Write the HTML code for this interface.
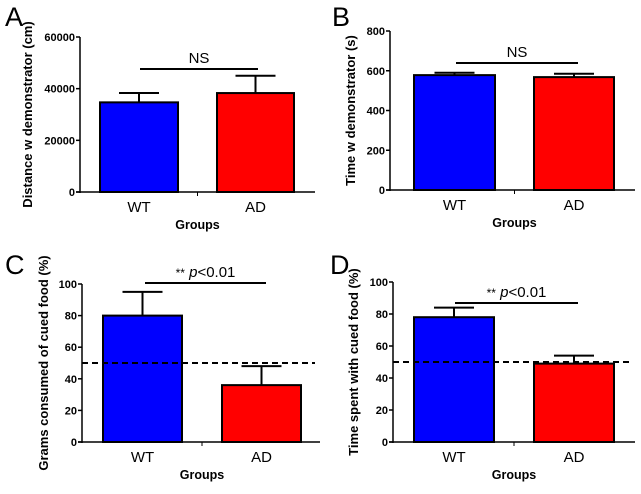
<!DOCTYPE html>
<html><head><meta charset="utf-8"><style>
body{margin:0;background:#fff;width:641px;height:489px;overflow:hidden}
svg{font-family:"Liberation Sans",Arial,sans-serif}
</style></head><body>
<svg id="fig" width="641" height="489"></svg>
<script>
const categories=["WT","AD"];
const valuesA=[34700,38300], errA=[3600,6700];
const valuesB=[578,568], errB=[12,17];
const valuesC=[80,36], errC=[15,12];
const valuesD=[78,49], errD=[6,5];
const ticksA=[0,20000,40000,60000], ticksB=[0,200,400,600,800];
const ticksC=[0,20,40,60,80,100], ticksD=[0,20,40,60,80,100];
const colors=["#0000ff","#ff0000"];
const NS="http://www.w3.org/2000/svg";
const svg=document.getElementById('fig');
function el(t,a,p){const e=document.createElementNS(NS,t);for(const k in a)e.setAttribute(k,a[k]);(p||svg).appendChild(e);return e;}
const panels=[
 {id:"a",letter:"A",lx:5,ly:26,ax:80,y0:192,yTop:37,xEnd:315,vals:valuesA,errs:errA,ticks:ticksA,max:60000,bars:[[100,178],[217,294]],ylab:"Distance w demonstrator (cm)",ylx:32,sig:"NS",sigY:69,sigX:[140,258],dash:null},
 {id:"b",letter:"B",lx:332,ly:26,ax:390,y0:190,yTop:31,xEnd:635,vals:valuesB,errs:errB,ticks:ticksB,max:800,bars:[[414,495],[534,614]],ylab:"Time w demonstrator (s)",ylx:355,sig:"NS",sigY:63,sigX:[456,578],dash:null},
 {id:"c",letter:"C",lx:5,ly:274,ax:82,y0:442,yTop:284,xEnd:320,vals:valuesC,errs:errC,ticks:ticksC,max:100,bars:[[103,182],[222,301]],ylab:"Grams consumed of cued food (%)",ylx:48,sig:"p",sigY:283,sigX:[145,266],dash:50},
 {id:"d",letter:"D",lx:330,ly:274,ax:393,y0:442,yTop:282,xEnd:635,vals:valuesD,errs:errD,ticks:ticksD,max:100,bars:[[414,494],[534,614]],ylab:"Time spent with cued food (%)",ylx:358,sig:"p",sigY:303,sigX:[455,578],dash:50}
];
panels.forEach(p=>{
 const g=el('g',{});
 
 
 const y=v=>p.y0-(v/p.max)*(p.y0-p.yTop);
 const L=el('text',{x:p.lx,y:p.ly,'font-size':27},g);L.textContent=p.letter;
 
 p.vals.forEach((v,i)=>{
  const [x1,x2]=p.bars[i];const cx=(x1+x2)/2;
  const e=el('line',{x1:cx,x2:cx,y1:y(v),y2:y(v+p.errs[i]),stroke:'#000','stroke-width':2},g);
  
  const c=el('line',{x1:cx-20,x2:cx+20,y1:y(v+p.errs[i]),y2:y(v+p.errs[i]),stroke:'#000','stroke-width':2},g);
  
  const r=el('rect',{x:x1,y:y(v),width:x2-x1,height:p.y0-y(v),fill:colors[i],stroke:'#000','stroke-width':2},g);
  
  const t=el('text',{x:cx,y:p.y0+20,'font-size':15,'text-anchor':'middle'},g);t.textContent=categories[i];
  
 });
 if(p.dash!==null){
  const d=el('line',{x1:p.ax,x2:p.xEnd-5,y1:y(p.dash),y2:y(p.dash),stroke:'#000','stroke-width':2,'stroke-dasharray':'6,4'},g);
  
 }
 const ya=el('line',{x1:p.ax,x2:p.ax,y1:p.yTop,y2:p.y0+1,stroke:'#000','stroke-width':1.5},g);
 
 const xa=el('line',{x1:p.ax-4,x2:p.xEnd,y1:p.y0,y2:p.y0,stroke:'#000','stroke-width':1.5},g);
 
 const mid=(p.bars[0][1]+p.bars[1][0])/2;
 el('line',{x1:mid,x2:mid,y1:p.y0,y2:p.y0+4,stroke:'#000','stroke-width':1},g);
 p.ticks.forEach(tv=>{
  el('line',{x1:p.ax-4,x2:p.ax,y1:y(tv),y2:y(tv),stroke:'#000','stroke-width':1.5},g);
  const t=el('text',{x:p.ax-5,y:y(tv)+4,'font-size':11,'font-weight':'bold','text-anchor':'end'},g);t.textContent=tv;
  
 });
 const xt=el('text',{x:mid,y:p.y0+37,'font-size':12.5,'font-weight':'bold','text-anchor':'middle'},g);xt.textContent="Groups";
 
 const cyl=(p.y0+p.yTop)/2;const yx=p.ylx;
 const yt=el('text',{x:yx,y:cyl,'font-size':13,'font-weight':'bold','text-anchor':'middle',transform:`rotate(-90 ${yx} ${cyl})`},g);yt.textContent=p.ylab;
 
 const sl=el('line',{x1:p.sigX[0],x2:p.sigX[1],y1:p.sigY,y2:p.sigY,stroke:'#000','stroke-width':2},g);
 
 const sx=(p.sigX[0]+p.sigX[1])/2;
 const st=el('text',{x:sx,y:p.sigY-6,'font-size':15,'text-anchor':'middle'},g);
 if(p.sig==="NS"){st.textContent="NS";}else{st.innerHTML='<tspan font-size="12">**</tspan> <tspan font-style="italic">p</tspan>&lt;0.01';}
 
});
</script>
</body></html>
